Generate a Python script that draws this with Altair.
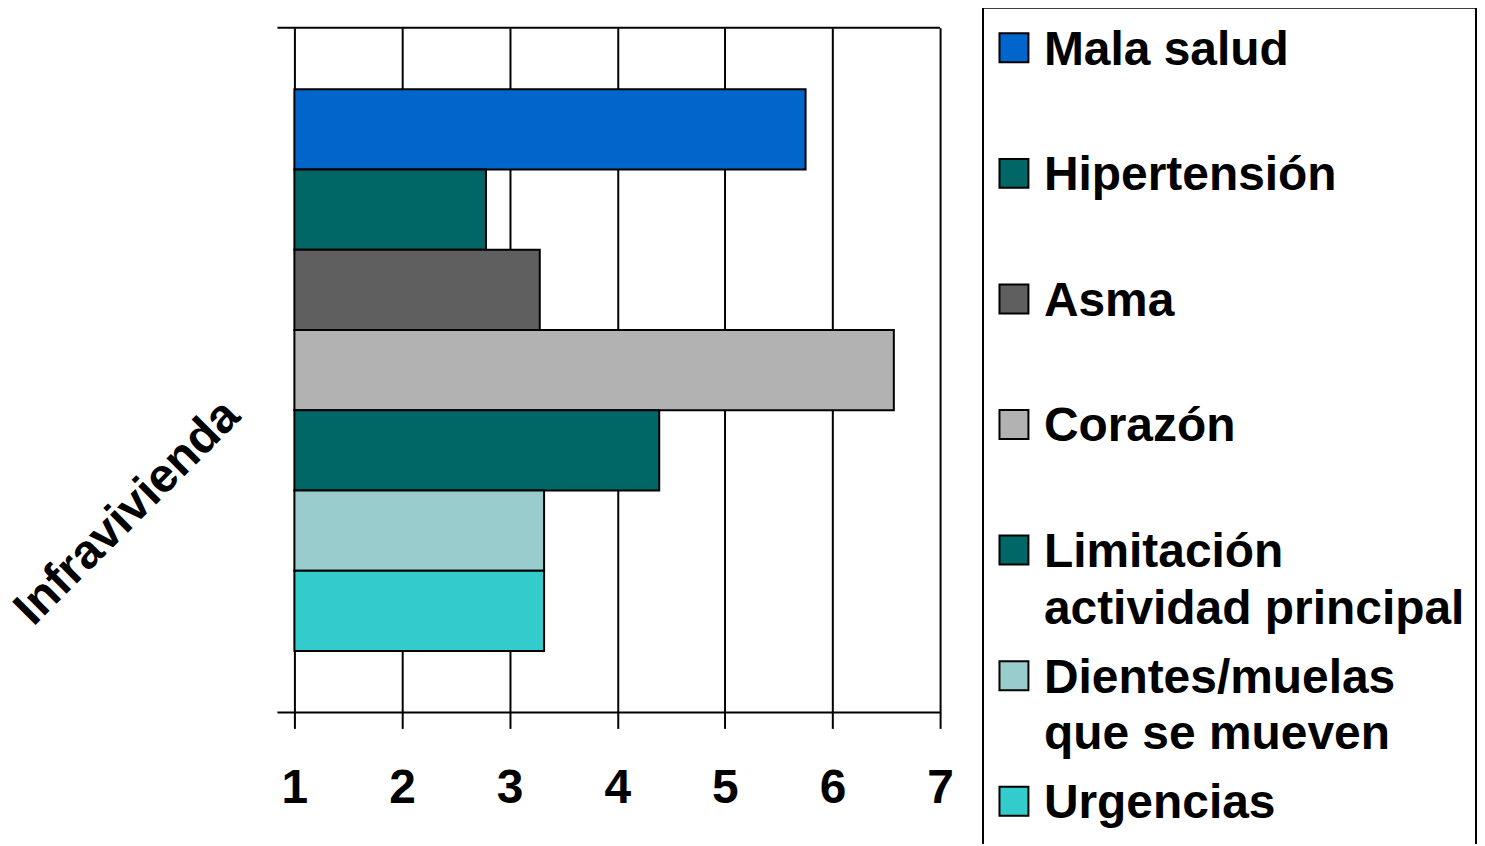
import altair as alt
import pandas as pd

# ---- data ----
categoria = ["Infravivienda"]
series = ["Mala salud", "Hipertensión", "Asma", "Corazón",
          "Limitación actividad principal", "Dientes/muelas que se mueven", "Urgencias"]
etiquetas = ["Mala salud", "Hipertensión", "Asma", "Corazón",
             "Limitación\nactividad principal", "Dientes/muelas\nque se mueven", "Urgencias"]
valores = [5.75, 2.78, 3.28, 6.57, 4.39, 3.32, 3.32]
colores = ["#0066CC", "#006666", "#5F5F5F", "#B2B2B2", "#006666", "#99CCCC", "#33CCCC"]
x_ticks = [1, 2, 3, 4, 5, 6, 7]
base_value = 1

df = pd.DataFrame({"serie": series, "etiqueta": etiquetas, "valor": valores})
one = pd.DataFrame({"k": [0]})
cat_df = pd.DataFrame({"cat": categoria})

W, H = 647, 686
FONT = "Liberation Sans"

color = alt.Color("serie:N", scale=alt.Scale(domain=series, range=colores), legend=None)

bars = alt.Chart(df).mark_bar(stroke="black", strokeWidth=2).encode(
    x=alt.X("valor:Q",
            scale=alt.Scale(domain=[1, 7], zero=False, nice=False),
            axis=alt.Axis(values=x_ticks, format="d", grid=True, gridColor="black",
                          gridWidth=2, gridOpacity=1, domain=False, ticks=True,
                          tickColor="black", tickWidth=2, tickSize=16,
                          labelFont=FONT, labelFontSize=48, labelFontWeight="bold",
                          labelColor="black", labelPadding=36, labelFlush=False,
                          labelOverlap=False, title=None)),
    x2=alt.datum(base_value),
    y=alt.Y("serie:N", sort=series,
            scale=alt.Scale(paddingInner=0, paddingOuter=0.765), axis=None),
    color=color,
)

top_rule = alt.Chart(one).mark_rule(color="black", strokeWidth=2).encode(
    x=alt.value(-17), x2=alt.value(W), y=alt.value(0))
bottom_rule = alt.Chart(one).mark_rule(color="black", strokeWidth=2).encode(
    x=alt.value(-17), x2=alt.value(W), y=alt.value(H))

cat_label = alt.Chart(cat_df).mark_text(
    angle=315, font=FONT, fontSize=48, fontWeight="bold", align="center",
    baseline="middle", color="black").encode(
    text="cat:N", x=alt.value(-167), y=alt.value(486))

legend_box = alt.Chart(one).mark_rect(fillOpacity=0, stroke="black", strokeWidth=2).encode(
    x=alt.value(690), x2=alt.value(1184), y=alt.value(-20), y2=alt.value(900))

ly = alt.Y("serie:N", sort=series,
           scale=alt.Scale(type="point", range=[20, 775], padding=0), axis=None)

legend_sq = alt.Chart(df).mark_square(size=841, opacity=1, filled=True,
                                      stroke="black", strokeWidth=2).encode(
    x=alt.value(721), y=ly, fill=color)

legend_txt = alt.Chart(df).mark_text(
    align="left", baseline="alphabetic", dy=17, lineBreak="\n", lineHeight=57,
    font=FONT, fontSize=48, fontWeight="bold", color="black").encode(
    x=alt.value(751), y=ly, text="etiqueta:N")

chart = alt.layer(bars, top_rule, bottom_rule, cat_label, legend_box, legend_sq, legend_txt
                  ).resolve_scale(y="independent").properties(
    width=W, height=H,
    autosize=alt.AutoSizeParams(type="none"),
    padding={"left": 287, "top": 19, "right": 538, "bottom": 131},
).configure_view(stroke=None)

chart.save("out.html", embed_options={"renderer": "svg", "actions": False})
